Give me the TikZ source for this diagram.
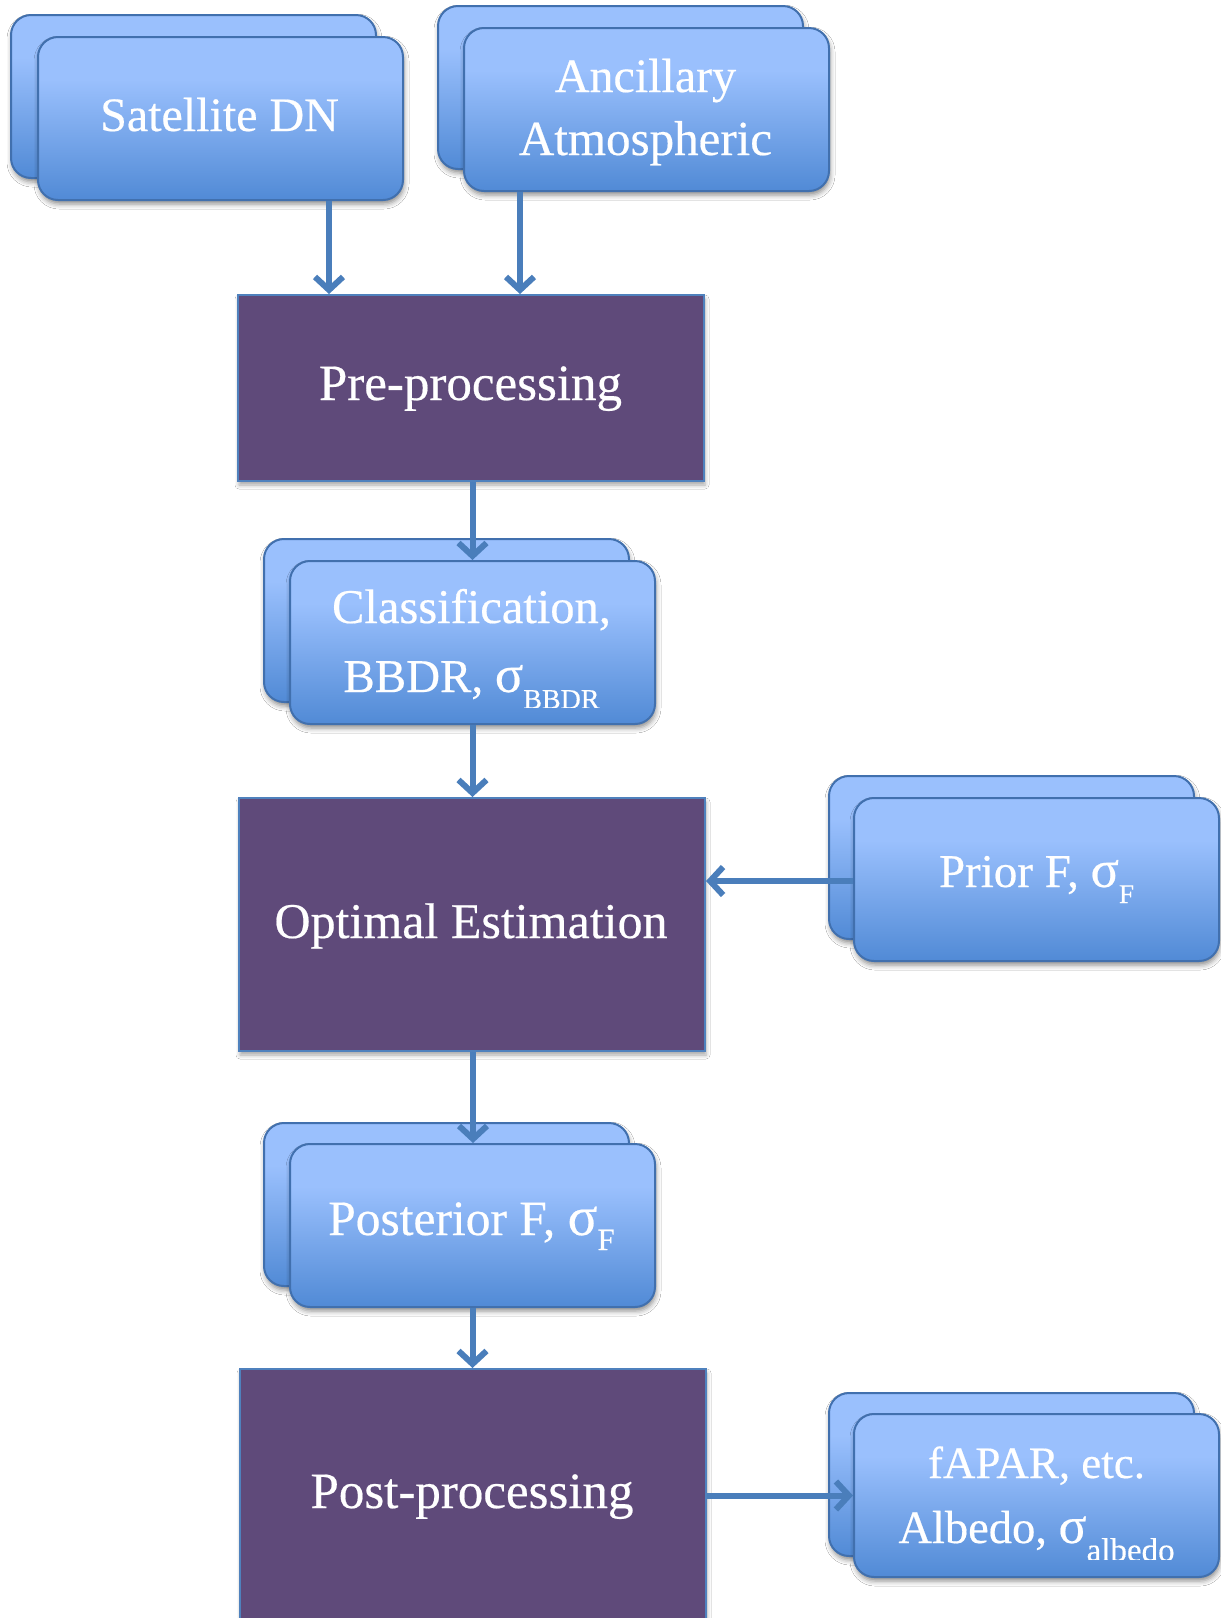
\documentclass[tikz,border=0pt]{standalone}
\usepackage{fontspec}
\setmainfont{Liberation Serif}[FakeBold=0.4]
\usetikzlibrary{arrows.meta,shadows.blur}
\definecolor{blight}{HTML}{9AC0FD}
\definecolor{bdark}{HTML}{3F7DCC}
\definecolor{bedge}{HTML}{4170AE}
\definecolor{purp}{HTML}{5F4A7A}
\definecolor{pedge}{HTML}{4F81BD}
\definecolor{arrc}{HTML}{4A7EBB}
\pgfdeclareverticalshading{boxgrad}{100bp}{color(0bp)=(bdark); color(16bp)=(bdark); color(62bp)=(blight); color(100bp)=(blight)}
\newcommand\lowsub[3]{\raisebox{#1}{\fontsize{#2}{#2}\selectfont #3}}
\newcommand\sig{{\fontsize{1.12em}{1em}\selectfont σ}}
\tikzset{
  bluebox/.style={draw=bedge, line width=2pt, rounded corners=20pt, shading=boxgrad,
    minimum width=365pt, minimum height=163pt, anchor=north west, inner sep=0pt,
    blur shadow={shadow xshift=1pt, shadow yshift=-4pt, shadow blur radius=5pt, shadow opacity=45}},
  procbox/.style={draw=pedge, line width=2pt, fill=purp, anchor=north west, inner sep=0pt,
    minimum width=466pt,
    blur shadow={shadow xshift=1pt, shadow yshift=-4pt, shadow blur radius=4pt, shadow opacity=35}},
  lbl/.style={text=white, anchor=base, inner sep=0pt},
  arr/.style={draw=arrc, line width=6pt, -{Straight Barb[length=13pt,width=28pt]}},
}
\begin{document}
\begin{tikzpicture}[x=1pt,y=-1pt]
\useasboundingbox (0,0) rectangle (1221,1618);
\fill[white] (0,0) rectangle (1221,1618);
% process boxes
\node[procbox, minimum height=186pt] (pre) at (237,294) {};
\node[procbox, minimum height=253pt] (opt) at (238,797) {};
\node[procbox, minimum height=257pt] (post) at (239,1368) {};
% input / output stacks
\node[bluebox] (satb) at (10,14) {};
\node[bluebox] (satf) at (37,36) {};
\node[bluebox] (ancb) at (437,5) {};
\node[bluebox] (ancf) at (463,27) {};
\node[bluebox] (clsb) at (263,538) {};
\node[bluebox] (clsf) at (289,560) {};
\node[bluebox] (prib) at (828,775) {};
\node[bluebox] (prif) at (853,797) {};
\node[bluebox] (posb) at (263,1122) {};
\node[bluebox] (posf) at (289,1143) {};
\node[bluebox] (fapb) at (828,1392) {};
\node[bluebox] (fapf) at (853,1413) {};
% labels
\node[lbl, font=\fontsize{48}{56}\selectfont] (satt) at (219.5,131) {Satellite DN};
\node[lbl, font=\fontsize{48}{58}\selectfont] (anct1) at (645.5,92) {Ancillary};
\node[lbl, font=\fontsize{49}{58}\selectfont] (anct2) at (645.5,155) {Atmospheric};
\node[lbl, font=\fontsize{51}{60}\selectfont] (pret) at (470.5,400) {Pre-processing};
\node[lbl, font=\fontsize{48.5}{56}\selectfont] (clst1) at (471.5,623) {Classification,};
\begin{scope}
  \clip (clsf.north west) rectangle ([yshift=18pt]clsf.south east);
  \node[lbl, font=\fontsize{47}{56}\selectfont] (clst2) at (471.5,692) {BBDR, \sig\lowsub{-16.5pt}{28}{BBDR}};
\end{scope}
\node[lbl, font=\fontsize{50}{60}\selectfont] (optt) at (471,938) {Optimal Estimation};
\node[lbl, font=\fontsize{47}{52}\selectfont] (prit) at (1036.5,887) {Prior F, \sig\lowsub{-16pt}{27}{F}};
\node[lbl, font=\fontsize{49.5}{58}\selectfont] (post1) at (471.5,1235) {Posterior F, \sig\lowsub{-15pt}{31}{F}};
\node[lbl, font=\fontsize{51}{60}\selectfont] (postt) at (472,1508) {Post-processing};
\node[lbl, font=\fontsize{45}{54}\selectfont] (fapt1) at (1036.5,1478) {fAPAR, etc.};
\begin{scope}
  \clip (fapf.north west) rectangle ([yshift=19pt]fapf.south east);
  \node[lbl, font=\fontsize{46.5}{54}\selectfont] (fapt2) at (1036.5,1543) {Albedo, \sig\lowsub{-18pt}{33}{albedo}};
\end{scope}
% connectors
\draw[arr] ([xshift=108.5pt]satf.south) coordinate (s1) -- (s1 |- pre.north);
\draw[arr] ([xshift=-126.5pt]ancf.south) coordinate (a1) -- (a1 |- pre.north);
\draw[arr] ([xshift=1.5pt]pre.south) coordinate (p1) -- (p1 |- clsf.north);
\draw[arr] (clsf.south) -- (clsf.south |- opt.north);
\draw[arr] ([yshift=-1.5pt]prif.west) coordinate (r1) -- (r1 -| opt.east);
\draw[arr] ([xshift=1pt]opt.south) coordinate (o1) -- (o1 |- posf.north);
\draw[arr] (posf.south) -- (posf.south |- post.north);
\draw[arr] (post.east |- fapf.west) -- (fapf.west);
\end{tikzpicture}
\end{document}
